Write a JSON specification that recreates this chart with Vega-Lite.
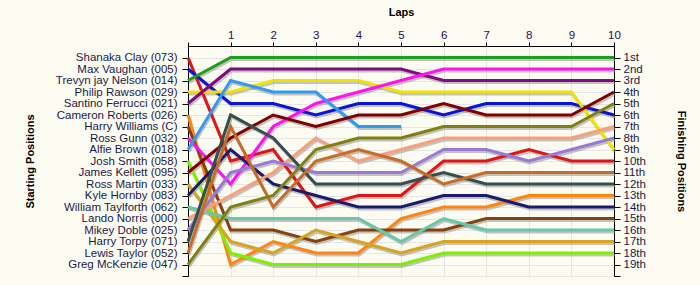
{
"$schema": "https://vega.github.io/schema/vega-lite/v6.json",
"width": 426, "height": 230,
"autosize": {"type": "none"},
"padding": {"left": 188, "top": 46, "right": 86, "bottom": 9},
"background": "#fdfcf2",
"config": {"view": {"stroke": "#d8d8d8", "fill": "#fdfcf2"}, "font": "Liberation Sans"},
"datasets": {"race": [
{"driver":"Shanaka Clay (073)","lap":0,"pos":1},{"driver":"Shanaka Clay (073)","lap":1,"pos":10},{"driver":"Shanaka Clay (073)","lap":2,"pos":9},{"driver":"Shanaka Clay (073)","lap":3,"pos":14},{"driver":"Shanaka Clay (073)","lap":4,"pos":13},{"driver":"Shanaka Clay (073)","lap":5,"pos":13},{"driver":"Shanaka Clay (073)","lap":6,"pos":10},{"driver":"Shanaka Clay (073)","lap":7,"pos":10},{"driver":"Shanaka Clay (073)","lap":8,"pos":9},{"driver":"Shanaka Clay (073)","lap":9,"pos":10},{"driver":"Shanaka Clay (073)","lap":10,"pos":10},
{"driver":"Max Vaughan (005)","lap":0,"pos":2},{"driver":"Max Vaughan (005)","lap":1,"pos":5},{"driver":"Max Vaughan (005)","lap":2,"pos":5},{"driver":"Max Vaughan (005)","lap":3,"pos":6},{"driver":"Max Vaughan (005)","lap":4,"pos":5},{"driver":"Max Vaughan (005)","lap":5,"pos":5},{"driver":"Max Vaughan (005)","lap":6,"pos":6},{"driver":"Max Vaughan (005)","lap":7,"pos":5},{"driver":"Max Vaughan (005)","lap":8,"pos":5},{"driver":"Max Vaughan (005)","lap":9,"pos":5},{"driver":"Max Vaughan (005)","lap":10,"pos":6},
{"driver":"Trevyn jay Nelson (014)","lap":0,"pos":3},{"driver":"Trevyn jay Nelson (014)","lap":1,"pos":1},{"driver":"Trevyn jay Nelson (014)","lap":2,"pos":1},{"driver":"Trevyn jay Nelson (014)","lap":3,"pos":1},{"driver":"Trevyn jay Nelson (014)","lap":4,"pos":1},{"driver":"Trevyn jay Nelson (014)","lap":5,"pos":1},{"driver":"Trevyn jay Nelson (014)","lap":6,"pos":1},{"driver":"Trevyn jay Nelson (014)","lap":7,"pos":1},{"driver":"Trevyn jay Nelson (014)","lap":8,"pos":1},{"driver":"Trevyn jay Nelson (014)","lap":9,"pos":1},{"driver":"Trevyn jay Nelson (014)","lap":10,"pos":1},
{"driver":"Philip Rawson (029)","lap":0,"pos":4},{"driver":"Philip Rawson (029)","lap":1,"pos":4},{"driver":"Philip Rawson (029)","lap":2,"pos":3},{"driver":"Philip Rawson (029)","lap":3,"pos":3},{"driver":"Philip Rawson (029)","lap":4,"pos":3},{"driver":"Philip Rawson (029)","lap":5,"pos":4},{"driver":"Philip Rawson (029)","lap":6,"pos":4},{"driver":"Philip Rawson (029)","lap":7,"pos":4},{"driver":"Philip Rawson (029)","lap":8,"pos":4},{"driver":"Philip Rawson (029)","lap":9,"pos":4},{"driver":"Philip Rawson (029)","lap":10,"pos":9},
{"driver":"Santino Ferrucci (021)","lap":0,"pos":5},{"driver":"Santino Ferrucci (021)","lap":1,"pos":2},{"driver":"Santino Ferrucci (021)","lap":2,"pos":2},{"driver":"Santino Ferrucci (021)","lap":3,"pos":2},{"driver":"Santino Ferrucci (021)","lap":4,"pos":2},{"driver":"Santino Ferrucci (021)","lap":5,"pos":2},{"driver":"Santino Ferrucci (021)","lap":6,"pos":3},{"driver":"Santino Ferrucci (021)","lap":7,"pos":3},{"driver":"Santino Ferrucci (021)","lap":8,"pos":3},{"driver":"Santino Ferrucci (021)","lap":9,"pos":3},{"driver":"Santino Ferrucci (021)","lap":10,"pos":3},
{"driver":"Cameron Roberts (026)","lap":0,"pos":6},{"driver":"Cameron Roberts (026)","lap":1,"pos":19},{"driver":"Cameron Roberts (026)","lap":2,"pos":17},{"driver":"Cameron Roberts (026)","lap":3,"pos":18},{"driver":"Cameron Roberts (026)","lap":4,"pos":18},{"driver":"Cameron Roberts (026)","lap":5,"pos":15},{"driver":"Cameron Roberts (026)","lap":6,"pos":14},{"driver":"Cameron Roberts (026)","lap":7,"pos":14},{"driver":"Cameron Roberts (026)","lap":8,"pos":13},{"driver":"Cameron Roberts (026)","lap":9,"pos":13},{"driver":"Cameron Roberts (026)","lap":10,"pos":13},
{"driver":"Harry Williams (C)","lap":0,"pos":7},{"driver":"Harry Williams (C)","lap":1,"pos":16},{"driver":"Harry Williams (C)","lap":2,"pos":16},{"driver":"Harry Williams (C)","lap":3,"pos":17},{"driver":"Harry Williams (C)","lap":4,"pos":16},{"driver":"Harry Williams (C)","lap":5,"pos":16},{"driver":"Harry Williams (C)","lap":6,"pos":16},{"driver":"Harry Williams (C)","lap":7,"pos":15},{"driver":"Harry Williams (C)","lap":8,"pos":15},{"driver":"Harry Williams (C)","lap":9,"pos":15},{"driver":"Harry Williams (C)","lap":10,"pos":15},
{"driver":"Ross Gunn (032)","lap":0,"pos":8},{"driver":"Ross Gunn (032)","lap":1,"pos":12},{"driver":"Ross Gunn (032)","lap":2,"pos":7},{"driver":"Ross Gunn (032)","lap":3,"pos":5},{"driver":"Ross Gunn (032)","lap":4,"pos":4},{"driver":"Ross Gunn (032)","lap":5,"pos":3},{"driver":"Ross Gunn (032)","lap":6,"pos":2},{"driver":"Ross Gunn (032)","lap":7,"pos":2},{"driver":"Ross Gunn (032)","lap":8,"pos":2},{"driver":"Ross Gunn (032)","lap":9,"pos":2},{"driver":"Ross Gunn (032)","lap":10,"pos":2},
{"driver":"Alfie Brown (018)","lap":0,"pos":9},{"driver":"Alfie Brown (018)","lap":1,"pos":3},{"driver":"Alfie Brown (018)","lap":2,"pos":4},{"driver":"Alfie Brown (018)","lap":3,"pos":4},{"driver":"Alfie Brown (018)","lap":4,"pos":7},{"driver":"Alfie Brown (018)","lap":5,"pos":7},
{"driver":"Josh Smith (058)","lap":0,"pos":10},{"driver":"Josh Smith (058)","lap":1,"pos":18},{"driver":"Josh Smith (058)","lap":2,"pos":19},{"driver":"Josh Smith (058)","lap":3,"pos":19},{"driver":"Josh Smith (058)","lap":4,"pos":19},{"driver":"Josh Smith (058)","lap":5,"pos":19},{"driver":"Josh Smith (058)","lap":6,"pos":18},{"driver":"Josh Smith (058)","lap":7,"pos":18},{"driver":"Josh Smith (058)","lap":8,"pos":18},{"driver":"Josh Smith (058)","lap":9,"pos":18},{"driver":"Josh Smith (058)","lap":10,"pos":18},
{"driver":"James Kellett (095)","lap":0,"pos":11},{"driver":"James Kellett (095)","lap":1,"pos":8},{"driver":"James Kellett (095)","lap":2,"pos":6},{"driver":"James Kellett (095)","lap":3,"pos":7},{"driver":"James Kellett (095)","lap":4,"pos":6},{"driver":"James Kellett (095)","lap":5,"pos":6},{"driver":"James Kellett (095)","lap":6,"pos":5},{"driver":"James Kellett (095)","lap":7,"pos":6},{"driver":"James Kellett (095)","lap":8,"pos":6},{"driver":"James Kellett (095)","lap":9,"pos":6},{"driver":"James Kellett (095)","lap":10,"pos":4},
{"driver":"Ross Martin (033)","lap":0,"pos":12},{"driver":"Ross Martin (033)","lap":1,"pos":17},{"driver":"Ross Martin (033)","lap":2,"pos":18},{"driver":"Ross Martin (033)","lap":3,"pos":16},{"driver":"Ross Martin (033)","lap":4,"pos":17},{"driver":"Ross Martin (033)","lap":5,"pos":18},{"driver":"Ross Martin (033)","lap":6,"pos":17},{"driver":"Ross Martin (033)","lap":7,"pos":17},{"driver":"Ross Martin (033)","lap":8,"pos":17},{"driver":"Ross Martin (033)","lap":9,"pos":17},{"driver":"Ross Martin (033)","lap":10,"pos":17},
{"driver":"Kyle Hornby (083)","lap":0,"pos":13},{"driver":"Kyle Hornby (083)","lap":1,"pos":9},{"driver":"Kyle Hornby (083)","lap":2,"pos":12},{"driver":"Kyle Hornby (083)","lap":3,"pos":13},{"driver":"Kyle Hornby (083)","lap":4,"pos":14},{"driver":"Kyle Hornby (083)","lap":5,"pos":14},{"driver":"Kyle Hornby (083)","lap":6,"pos":13},{"driver":"Kyle Hornby (083)","lap":7,"pos":13},{"driver":"Kyle Hornby (083)","lap":8,"pos":14},{"driver":"Kyle Hornby (083)","lap":9,"pos":14},{"driver":"Kyle Hornby (083)","lap":10,"pos":14},
{"driver":"William Taylforth (062)","lap":0,"pos":14},{"driver":"William Taylforth (062)","lap":1,"pos":15},{"driver":"William Taylforth (062)","lap":2,"pos":15},{"driver":"William Taylforth (062)","lap":3,"pos":15},{"driver":"William Taylforth (062)","lap":4,"pos":15},{"driver":"William Taylforth (062)","lap":5,"pos":17},{"driver":"William Taylforth (062)","lap":6,"pos":15},{"driver":"William Taylforth (062)","lap":7,"pos":16},{"driver":"William Taylforth (062)","lap":8,"pos":16},{"driver":"William Taylforth (062)","lap":9,"pos":16},{"driver":"William Taylforth (062)","lap":10,"pos":16},
{"driver":"Lando Norris (000)","lap":0,"pos":15},{"driver":"Lando Norris (000)","lap":1,"pos":13},{"driver":"Lando Norris (000)","lap":2,"pos":11},{"driver":"Lando Norris (000)","lap":3,"pos":8},{"driver":"Lando Norris (000)","lap":4,"pos":10},{"driver":"Lando Norris (000)","lap":5,"pos":9},{"driver":"Lando Norris (000)","lap":6,"pos":8},{"driver":"Lando Norris (000)","lap":7,"pos":8},{"driver":"Lando Norris (000)","lap":8,"pos":8},{"driver":"Lando Norris (000)","lap":9,"pos":8},{"driver":"Lando Norris (000)","lap":10,"pos":7},
{"driver":"Mikey Doble (025)","lap":0,"pos":16},{"driver":"Mikey Doble (025)","lap":1,"pos":11},{"driver":"Mikey Doble (025)","lap":2,"pos":10},{"driver":"Mikey Doble (025)","lap":3,"pos":11},{"driver":"Mikey Doble (025)","lap":4,"pos":11},{"driver":"Mikey Doble (025)","lap":5,"pos":11},{"driver":"Mikey Doble (025)","lap":6,"pos":9},{"driver":"Mikey Doble (025)","lap":7,"pos":9},{"driver":"Mikey Doble (025)","lap":8,"pos":10},{"driver":"Mikey Doble (025)","lap":9,"pos":9},{"driver":"Mikey Doble (025)","lap":10,"pos":8},
{"driver":"Harry Torpy (071)","lap":0,"pos":17},{"driver":"Harry Torpy (071)","lap":1,"pos":6},{"driver":"Harry Torpy (071)","lap":2,"pos":8},{"driver":"Harry Torpy (071)","lap":3,"pos":12},{"driver":"Harry Torpy (071)","lap":4,"pos":12},{"driver":"Harry Torpy (071)","lap":5,"pos":12},{"driver":"Harry Torpy (071)","lap":6,"pos":11},{"driver":"Harry Torpy (071)","lap":7,"pos":12},{"driver":"Harry Torpy (071)","lap":8,"pos":12},{"driver":"Harry Torpy (071)","lap":9,"pos":12},{"driver":"Harry Torpy (071)","lap":10,"pos":12},
{"driver":"Lewis Taylor (052)","lap":0,"pos":18},{"driver":"Lewis Taylor (052)","lap":1,"pos":7},{"driver":"Lewis Taylor (052)","lap":2,"pos":14},{"driver":"Lewis Taylor (052)","lap":3,"pos":10},{"driver":"Lewis Taylor (052)","lap":4,"pos":9},{"driver":"Lewis Taylor (052)","lap":5,"pos":10},{"driver":"Lewis Taylor (052)","lap":6,"pos":12},{"driver":"Lewis Taylor (052)","lap":7,"pos":11},{"driver":"Lewis Taylor (052)","lap":8,"pos":11},{"driver":"Lewis Taylor (052)","lap":9,"pos":11},{"driver":"Lewis Taylor (052)","lap":10,"pos":11},
{"driver":"Greg McKenzie (047)","lap":0,"pos":19},{"driver":"Greg McKenzie (047)","lap":1,"pos":14},{"driver":"Greg McKenzie (047)","lap":2,"pos":13},{"driver":"Greg McKenzie (047)","lap":3,"pos":9},{"driver":"Greg McKenzie (047)","lap":4,"pos":8},{"driver":"Greg McKenzie (047)","lap":5,"pos":8},{"driver":"Greg McKenzie (047)","lap":6,"pos":7},{"driver":"Greg McKenzie (047)","lap":7,"pos":7},{"driver":"Greg McKenzie (047)","lap":8,"pos":7},{"driver":"Greg McKenzie (047)","lap":9,"pos":7},{"driver":"Greg McKenzie (047)","lap":10,"pos":5}
]},
"data": {"name": "race"},
"layer": [
{
"mark": {"type": "line", "stroke": "#8a8a8a", "strokeWidth": 3, "opacity": 0.5, "xOffset": 1, "yOffset": 2},
"encoding": {
"x": {"field": "lap", "type": "quantitative", "scale": {"domain": [0, 10], "nice": false}, "axis": null},
"y": {"field": "pos", "type": "quantitative", "scale": {"domain": [0, 20], "reverse": true, "nice": false, "zero": false}, "axis": null},
"detail": {"field": "driver"},
"order": {"field": "lap"}
}
},
{
"mark": {"type": "line", "strokeWidth": 3},
"encoding": {
"x": {"field": "lap", "type": "quantitative", "scale": {"domain": [0, 10], "nice": false},
"axis": {"orient": "top", "values": [0,1,2,3,4,5,6,7,8,9,10], "labelExpr": "datum.value == 0 ? '' : datum.label", "title": "Laps", "titleFontSize": 11, "titleFontWeight": "bold", "titleColor": "#000000", "titlePadding": 12, "labelFontSize": 11.5, "labelColor": "#2a0a4a", "labelPadding": 2, "tickSize": 4, "tickColor": "#000000", "domainColor": "#000000", "grid": true, "gridColor": "#e6e6e6", "labelFlush": false}},
"y": {"field": "pos", "type": "quantitative", "scale": {"domain": [0, 20], "reverse": true, "nice": false, "zero": false},
"axis": {"orient": "left", "values": [1,2,3,4,5,6,7,8,9,10,11,12,13,14,15,16,17,18,19,20], "labelExpr": "['', 'Shanaka Clay (073)', 'Max Vaughan (005)', 'Trevyn jay Nelson (014)', 'Philip Rawson (029)', 'Santino Ferrucci (021)', 'Cameron Roberts (026)', 'Harry Williams (C)', 'Ross Gunn (032)', 'Alfie Brown (018)', 'Josh Smith (058)', 'James Kellett (095)', 'Ross Martin (033)', 'Kyle Hornby (083)', 'William Taylforth (062)', 'Lando Norris (000)', 'Mikey Doble (025)', 'Harry Torpy (071)', 'Lewis Taylor (052)', 'Greg McKenzie (047)', ''][datum.value]", "title": "Starting Positions", "titleFontSize": 11, "titleFontWeight": "bold", "titleColor": "#000000", "titleX": -158, "titleY": 115, "titleAngle": -90, "titleAlign": "center", "titleBaseline": "middle", "labelFontSize": 11.5, "labelColor": "#1a1a4a", "labelPadding": 5, "tickSize": 6, "tickColor": "#000000", "domainColor": "#000000", "grid": true, "gridColor": "#e6e6e6", "labelFlush": false, "labelOverlap": false}},
"color": {"field": "driver", "type": "nominal", "legend": null,
"scale": {"domain": ["Shanaka Clay (073)", "Max Vaughan (005)", "Trevyn jay Nelson (014)", "Philip Rawson (029)", "Santino Ferrucci (021)", "Cameron Roberts (026)", "Harry Williams (C)", "Ross Gunn (032)", "Alfie Brown (018)", "Josh Smith (058)", "James Kellett (095)", "Ross Martin (033)", "Kyle Hornby (083)", "William Taylforth (062)", "Lando Norris (000)", "Mikey Doble (025)", "Harry Torpy (071)", "Lewis Taylor (052)", "Greg McKenzie (047)"],
"range": ["#e01515", "#0a14d8", "#1e9e1e", "#f2e200", "#800a80", "#ff8410", "#85420f", "#ff12ee", "#3399f0", "#7cf000", "#800000", "#d8a420", "#1a1a6e", "#66c8a8", "#f8a07c", "#9878d8", "#344f4c", "#c86a28", "#808010"]}},
"order": {"field": "lap"}
}
},
{
"mark": {"type": "line", "opacity": 0},
"encoding": {
"x": {"field": "lap", "type": "quantitative", "scale": {"domain": [0, 10], "nice": false}, "axis": null},
"y": {"field": "pos", "type": "quantitative", "scale": {"domain": [0, 20], "reverse": true, "nice": false, "zero": false},
"axis": {"orient": "right", "values": [1,2,3,4,5,6,7,8,9,10,11,12,13,14,15,16,17,18,19,20], "labelExpr": "datum.value == 20 ? '' : datum.value == 1 ? '1st' : datum.value == 2 ? '2nd' : datum.value == 3 ? '3rd' : datum.value + 'th'", "title": "Finishing Positions", "titleFontSize": 11, "titleFontWeight": "bold", "titleColor": "#000000", "titleX": 66, "titleY": 115, "titleAngle": 90, "titleAlign": "center", "titleBaseline": "middle", "labelFontSize": 11.5, "labelColor": "#1a1a4a", "labelPadding": 3, "tickSize": 6, "tickColor": "#000000", "domainColor": "#000000", "grid": false, "labelFlush": false, "labelOverlap": false}},
"detail": {"field": "driver"}
}
}
],
"resolve": {"axis": {"x": "independent", "y": "independent"}}
}
